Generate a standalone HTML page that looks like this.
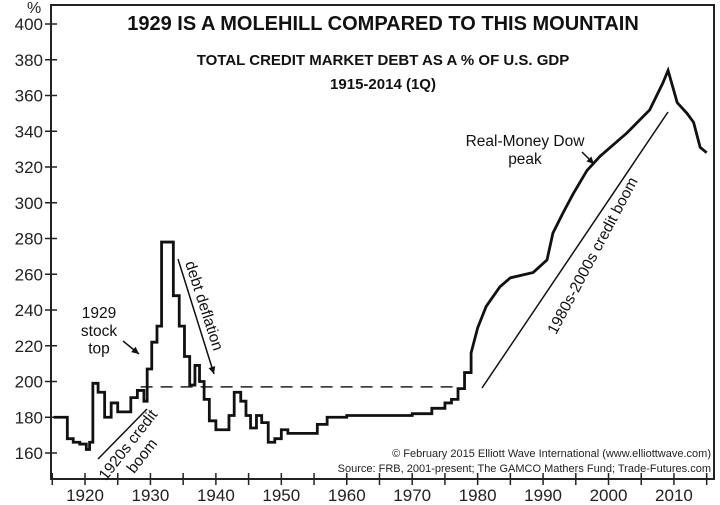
<!DOCTYPE html>
<html><head><meta charset="utf-8"><style>
body{margin:0;background:#fff;}
svg{display:block;font-family:"Liberation Sans",Arial,sans-serif;}
</style></head><body>
<svg id="chart" width="720" height="505" viewBox="0 0 720 505"></svg>
<script>
const years=[1915.2,1916.5,1917.3,1918.2,1919.2,1920.2,1920.7,1921.2,1922,1923,1924,1925,1926,1927,1928,1929,1929.5,1930.2,1931,1931.7,1932.8,1933.5,1934.4,1935.2,1936,1936.8,1937.5,1938.2,1939,1940,1941,1942,1942.8,1943.8,1944.6,1945.3,1946.2,1947,1948,1949,1950,1951,1953,1955.5,1957,1960,1970,1973,1975,1976,1977,1978,1979,1980,1981.3,1983.4,1985,1988.5,1990.6,1991.5,1993,1994.6,1996.7,1998.7,2002.8,2006.3,2008.3,2009.1,2010.5,2012,2013,2014,2015];
const debtPct=[180,180,168,166,165,162,166,199,194,180,188,183,183,191,195,189,207,222,231,278,278,248,231,214,198,209,200,190,178,173,173,181,194,189,181,174,181,177,166,168,173,171,171,176,180,181,182,185,188,190,196,205,216,230,242,253,258,261,268,283,294,305,318,326,339,352,367,374,356,350,345,331,328];
const yTicks=[160,180,200,220,240,260,280,300,320,340,360,380,400];
const xLabels=[1920,1930,1940,1950,1960,1970,1980,1990,2000,2010];
const xMinor=[1915,1920,1925,1930,1935,1940,1945,1950,1955,1960,1965,1970,1975,1980,1985,1990,1995,2000,2005,2010,2015];
const refLevel=197;

const svg=document.getElementById('chart');
const NS='http://www.w3.org/2000/svg';
const xs=y=>85+(y-1920)*6.544;
const ys=v=>24+(400-v)*1.7875;
function mk(tag,attrs,parent){const e=document.createElementNS(NS,tag);for(const k in attrs)e.setAttribute(k,attrs[k]);(parent||svg).appendChild(e);return e;}
function txt(s,attrs){const e=mk('text',attrs);e.textContent=s;return e;}

const frame=mk('rect',{x:51,y:5,width:663,height:474,fill:'none',stroke:'#222','stroke-width':2});



yTicks.forEach(v=>{
  const t=mk('line',{x1:45,x2:57,y1:ys(v),y2:ys(v),stroke:'#222','stroke-width':1.5});
  
  
  const l=txt(String(v),{x:43,y:ys(v)+6,'text-anchor':'end','font-size':17,fill:'#222'});
  
  
});
const pct=txt('%',{x:27,y:13,'font-size':16,fill:'#222'});



xMinor.forEach(y=>{
  const t=mk('line',{x1:xs(y),x2:xs(y),y1:473,y2:485,stroke:'#222','stroke-width':1.5});
  
  
});
xLabels.forEach(y=>{
  const l=txt(String(y),{x:xs(y),y:501,'text-anchor':'middle','font-size':17,fill:'#222'});
  
  
});

const dash=mk('line',{x1:xs(1928.5),x2:xs(1976.5),y1:ys(refLevel),y2:ys(refLevel),stroke:'#222','stroke-width':1.5,'stroke-dasharray':'12,8'});



let d='';
for(let i=0;i<years.length;i++){
  const X=xs(years[i]),Y=ys(debtPct[i]);
  if(i===0)d+='M'+X+','+Y;
  else if(years[i]<1980){d+=' H'+X+' V'+Y;}
  else d+=' L'+X+','+Y;
}
const line=mk('path',{d:d,fill:'none',stroke:'#111','stroke-width':2.8,'stroke-linejoin':'miter'});



const t1=txt('1929 IS A MOLEHILL COMPARED TO THIS MOUNTAIN',{x:383,y:30,'text-anchor':'middle','font-size':20,'font-weight':'bold',fill:'#111'});


const t2=txt('TOTAL CREDIT MARKET DEBT AS A % OF U.S. GDP',{x:383,y:65,'text-anchor':'middle','font-size':15,'font-weight':'bold',fill:'#111'});


const t3=txt('1915-2014 (1Q)',{x:383,y:89,'text-anchor':'middle','font-size':15,'font-weight':'bold',fill:'#111'});



function ann(lines,x,y,name,size,rot,anchor){
  const g=mk('g',{transform:'translate('+x+','+y+') rotate('+(rot||0)+')'});
  
  
  lines.forEach((s,i)=>{const e=mk('text',{x:0,y:i*size*1.15,'text-anchor':anchor||'middle','font-size':size,fill:'#111'},g);e.textContent=s;});
}
ann(['1929','stock','top'],99,318,'annotation-1929-stock-top',15.5);
ann(['debt deflation'],185,263,'annotation-debt-deflation',15.5,72,'start');
ann(['1920s credit','boom'],132,448,'annotation-1920s-credit-boom',15.5,-52);
ann(['1980s-2000s credit boom'],597,258,'annotation-1980s-2000s-credit-boom',15.5,-62);
ann(['Real-Money Dow','peak'],525,146,'annotation-real-money-dow-peak',15.5);

function seg(x1,y1,x2,y2,name,arrow){
  const l=mk('line',{x1,y1,x2,y2,stroke:'#111','stroke-width':1.5});
  
  
  if(arrow){
    const a=Math.atan2(y2-y1,x2-x1),L=8,w=0.45;
    const p=mk('polygon',{points:[x2,y2,x2-L*Math.cos(a-w),y2-L*Math.sin(a-w),x2-L*Math.cos(a+w),y2-L*Math.sin(a+w)].join(','),fill:'#111'});
    
    
  }
}
seg(98,459,147,409,'trend-line-1920s');
seg(482,388,668,112,'trend-line-1980s-2000s');
seg(178,259,214,374,'arrow-debt-deflation',true);
seg(123,341,139,354,'arrow-1929-top',true);
seg(582,152,594,164,'arrow-dow-peak',true);

const c1=txt('© February 2015 Elliott Wave International (www.elliottwave.com)',{x:711,y:457,'text-anchor':'end','font-size':11,fill:'#222'});


const c2=txt('Source: FRB, 2001-present; The GAMCO Mathers Fund; Trade-Futures.com',{x:711,y:472,'text-anchor':'end','font-size':11,fill:'#222'});


</script>
</body></html>
